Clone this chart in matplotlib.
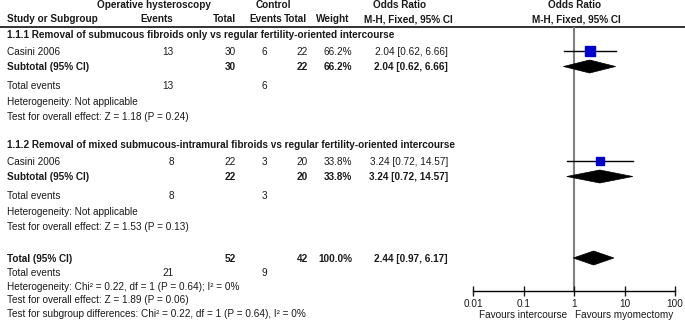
import matplotlib
matplotlib.use("Agg")
import matplotlib.pyplot as plt
from matplotlib.patches import Polygon
import numpy as np

# ---------------- data ----------------
group_titles = [
    "1.1.1 Removal of submucous fibroids only vs regular fertility-oriented intercourse",
    "1.1.2 Removal of mixed submucous-intramural fibroids vs regular fertility-oriented intercourse",
]
study_names = ["Casini 2006", "Casini 2006"]
exp_events = [13, 8]
exp_total = [30, 22]
ctl_events = [6, 3]
ctl_total = [22, 20]
weights = [66.2, 33.8]
or_est = [2.04, 3.24]
or_lo = [0.62, 0.72]
or_hi = [6.66, 14.57]
het_texts = ["Heterogeneity: Not applicable", "Heterogeneity: Not applicable"]
effect_texts = ["Test for overall effect: Z = 1.18 (P = 0.24)",
                "Test for overall effect: Z = 1.53 (P = 0.13)"]

total_exp_total = 52
total_ctl_total = 42
total_weight = 100.0
total_or = [2.44, 0.97, 6.17]
total_exp_events = 21
total_ctl_events = 9
total_het = "Heterogeneity: Chi\u00b2 = 0.22, df = 1 (P = 0.64); I\u00b2 = 0%"
total_effect = "Test for overall effect: Z = 1.89 (P = 0.06)"
subgroup_diff = "Test for subgroup differences: Chi\u00b2 = 0.22, df = 1 (P = 0.64), I\u00b2 = 0%"

tick_values = [0.01, 0.1, 1, 10, 100]
tick_labels = ["0.01", "0.1", "1", "10", "100"]
favours = ["Favours intercourse", "Favours myomectomy"]

# ---------------- layout ----------------
W, H = 685, 332
plt.rcParams['font.family'] = ['Liberation Sans', 'DejaVu Sans']
FS = 7.2
TC = '#1a1a1a'
fig = plt.figure(figsize=(W / 100, H / 100), dpi=100)
tab = fig.add_axes([0, 0, 1, 1])
tab.set_xlim(0, W)
tab.set_ylim(H, 0)
tab.axis('off')

X_LEFT = 7
X_EE, X_ET, X_CE, X_CT, X_W, X_CI = 174, 236, 267, 308, 352, 448


def txt(x, y, s, ha='left', bold=False, **kw):
    tab.text(x, y, s, ha=ha, va='center', fontsize=FS, color=TC,
             fontweight='bold' if bold else 'normal', **kw)


# headers
txt(154, 5.5, "Operative hysteroscopy", ha='center', bold=True)
txt(273, 5.5, "Control", ha='center', bold=True)
txt(400, 5.5, "Odds Ratio", ha='center', bold=True)
txt(575, 5.5, "Odds Ratio", ha='center', bold=True)
txt(X_LEFT, 19.5, "Study or Subgroup", bold=True)
txt(157, 19.5, "Events", ha='center', bold=True)
txt(236, 19.5, "Total", ha='right', bold=True)
txt(282, 19.5, "Events", ha='right', bold=True)
txt(307, 19.5, "Total", ha='right', bold=True)
txt(349, 19.5, "Weight", ha='right', bold=True)
txt(408, 19.5, "M-H, Fixed, 95% CI", ha='center', bold=True)
txt(576, 19.5, "M-H, Fixed, 95% CI", ha='center', bold=True)
tab.plot([0, W], [26.5, 26.5], color='#333333', lw=1.4)

# forest axes
AX_L, AX_R, AX_TOP, AX_BOT = 473, 675, 26.5, 291
fax = fig.add_axes([AX_L / W, 1 - AX_BOT / H, (AX_R - AX_L) / W, (AX_BOT - AX_TOP) / H])
fax.set_xscale('log')
fax.set_xlim(tick_values[0], tick_values[-1])
fax.set_ylim(AX_BOT, AX_TOP)
fax.patch.set_alpha(0)
for s in ['top', 'left', 'right']:
    fax.spines[s].set_visible(False)
fax.spines['bottom'].set_linewidth(1.0)
fax.set_yticks([])
fax.set_xticks(tick_values)
fax.set_xticklabels(tick_labels)
fax.minorticks_off()
fax.tick_params(axis='x', direction='inout', length=6.5, width=1.0, labelsize=FS,
                pad=2.5, colors=TC)
for lab in fax.get_xticklabels():
    lab.set_family(['Liberation Sans', 'DejaVu Sans'])
fax.axvline(1, color='#7f7f7f', lw=1.5, zorder=1)


def diamond(lo, est, hi, y, hh):
    fax.add_patch(Polygon([[lo, y], [est, y - hh], [hi, y], [est, y + hh]],
                          closed=True, facecolor='black', edgecolor='black',
                          lw=0.5, zorder=3))


base = [0, 110]
for g in range(2):
    b = base[g]
    txt(X_LEFT, 35.5 + b, group_titles[g], bold=True)
    y = 52 + b
    txt(X_LEFT, y, study_names[g])
    txt(X_EE, y, str(exp_events[g]), ha='right')
    txt(X_ET, y, str(exp_total[g]), ha='right')
    txt(X_CE, y, str(ctl_events[g]), ha='right')
    txt(X_CT, y, str(ctl_total[g]), ha='right')
    txt(X_W, y, f"{weights[g]:.1f}%", ha='right')
    txt(X_CI, y, f"{or_est[g]:.2f} [{or_lo[g]:.2f}, {or_hi[g]:.2f}]", ha='right')
    fax.plot([or_lo[g], or_hi[g]], [y - 1.5, y - 1.5], color='black', lw=1.0, zorder=2)
    fax.plot([or_est[g]], [y - 1.5], marker='s', ms=9.7 * np.sqrt(weights[g] / 100),
             color='#0000CC', mec='#0000CC', zorder=4, ls='none')
    ys = 67.5 + b
    txt(X_LEFT, ys, "Subtotal (95% CI)", bold=True)
    txt(X_ET, ys, str(exp_total[g]), ha='right', bold=True)
    txt(X_CT, ys, str(ctl_total[g]), ha='right', bold=True)
    txt(X_W, ys, f"{weights[g]:.1f}%", ha='right', bold=True)
    txt(X_CI, ys, f"{or_est[g]:.2f} [{or_lo[g]:.2f}, {or_hi[g]:.2f}]", ha='right', bold=True)
    diamond(or_lo[g], or_est[g], or_hi[g], ys - 1, 6.5)
    yt = 86 + b
    txt(X_LEFT, yt, "Total events")
    txt(X_EE, yt, str(exp_events[g]), ha='right')
    txt(X_CE, yt, str(ctl_events[g]), ha='right')
    txt(X_LEFT, 102 + b, het_texts[g])
    txt(X_LEFT, 117 + b, effect_texts[g])

yT = 259
txt(X_LEFT, yT, "Total (95% CI)", bold=True)
txt(X_ET, yT, str(total_exp_total), ha='right', bold=True)
txt(X_CT, yT, str(total_ctl_total), ha='right', bold=True)
txt(X_W, yT, f"{total_weight:.1f}%", ha='right', bold=True)
txt(X_CI, yT, f"{total_or[0]:.2f} [{total_or[1]:.2f}, {total_or[2]:.2f}]", ha='right', bold=True)
diamond(total_or[1], total_or[0], total_or[2], yT - 1, 7)
txt(X_LEFT, 273, "Total events")
txt(X_EE, 273, str(total_exp_events), ha='right')
txt(X_CE, 273, str(total_ctl_events), ha='right')
txt(X_LEFT, 286.5, total_het)
txt(X_LEFT, 300, total_effect)
txt(X_LEFT, 314, subgroup_diff)

txt(523, 315, favours[0], ha='center')
txt(624, 315, favours[1], ha='center')

fig.savefig("out.png", dpi=100)
